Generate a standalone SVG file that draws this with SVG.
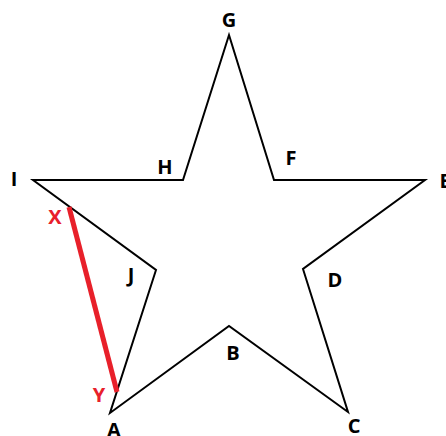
<svg xmlns="http://www.w3.org/2000/svg" width="446" height="436" viewBox="0 0 446 436">
<style>
.star{fill:none;stroke:#000;stroke-width:2;stroke-linejoin:miter}
.seg{stroke:#e8202a;stroke-width:5;stroke-linecap:butt}
.lbl{font-family:"Open Sans","Liberation Sans",sans-serif;font-weight:bold;font-size:20px;fill:#000;text-anchor:middle}
.red{fill:#e8202a}
</style>
<rect width="446" height="436" fill="#fff"/>
<g id="connectors">
<polygon class="star" points="229,35 274,180 425,180 303,269 348,412 229,326 110,413 156,270 33,180 183,180"/>
<line class="seg" x1="69" y1="207" x2="117" y2="392"/>
</g>
<g id="G"><text class="lbl" x="229" y="27">G</text></g>
<g id="H"><text class="lbl" x="165" y="174">H</text></g>
<g id="F"><text class="lbl" x="291" y="165">F</text></g>
<g id="E"><text class="lbl" x="445" y="188">E</text></g>
<g id="I"><text class="lbl" x="14" y="186">I</text></g>
<g id="X"><text class="lbl red" x="55" y="224">X</text></g>
<g id="J"><text class="lbl" x="131" y="282">J</text></g>
<g id="D"><text class="lbl" x="335" y="287">D</text></g>
<g id="B"><text class="lbl" x="233" y="360">B</text></g>
<g id="Y"><text class="lbl red" x="99" y="402">Y</text></g>
<g id="A"><text class="lbl" x="114" y="437">A</text></g>
<g id="C"><text class="lbl" x="354" y="433">C</text></g>
</svg>
